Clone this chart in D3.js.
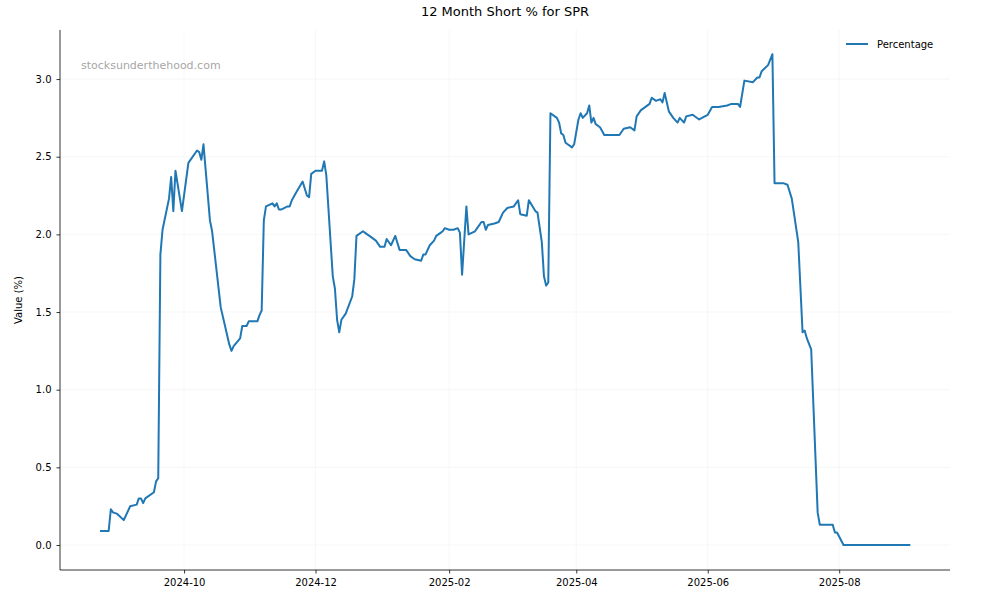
<!DOCTYPE html>
<html>
<head>
<meta charset="utf-8">
<script src="https://cdn.jsdelivr.net/npm/d3@7"></script>
<style>
  body { margin: 0; background: #fff; }
  text { font-family: "DejaVu Sans", sans-serif; }
</style>
</head>
<body>
<svg id="chart" width="1000" height="600"></svg>
<script>
const dates = ["2024-08-23","2024-08-27","2024-08-28","2024-08-29","2024-08-31","2024-09-03","2024-09-06","2024-09-09","2024-09-10","2024-09-11","2024-09-12","2024-09-13","2024-09-17","2024-09-18","2024-09-19","2024-09-20","2024-09-21","2024-09-24","2024-09-25","2024-09-26","2024-09-27","2024-09-30","2024-10-03","2024-10-07","2024-10-08","2024-10-09","2024-10-10","2024-10-13","2024-10-14","2024-10-18","2024-10-20","2024-10-22","2024-10-23","2024-10-24","2024-10-27","2024-10-28","2024-10-30","2024-10-31","2024-11-01","2024-11-04","2024-11-05","2024-11-06","2024-11-07","2024-11-08","2024-11-11","2024-11-12","2024-11-13","2024-11-14","2024-11-15","2024-11-18","2024-11-19","2024-11-20","2024-11-22","2024-11-25","2024-11-27","2024-11-28","2024-11-29","2024-12-01","2024-12-04","2024-12-05","2024-12-06","2024-12-09","2024-12-10","2024-12-11","2024-12-12","2024-12-13","2024-12-15","2024-12-18","2024-12-19","2024-12-20","2024-12-23","2024-12-24","2024-12-26","2024-12-29","2024-12-31","2025-01-02","2025-01-03","2025-01-05","2025-01-07","2025-01-09","2025-01-12","2025-01-14","2025-01-16","2025-01-19","2025-01-20","2025-01-21","2025-01-23","2025-01-25","2025-01-26","2025-01-28","2025-01-29","2025-01-30","2025-02-01","2025-02-03","2025-02-05","2025-02-06","2025-02-07","2025-02-09","2025-02-10","2025-02-13","2025-02-14","2025-02-16","2025-02-17","2025-02-18","2025-02-19","2025-02-22","2025-02-24","2025-02-26","2025-02-28","2025-03-03","2025-03-05","2025-03-06","2025-03-09","2025-03-10","2025-03-13","2025-03-14","2025-03-16","2025-03-17","2025-03-18","2025-03-19","2025-03-20","2025-03-23","2025-03-24","2025-03-25","2025-03-26","2025-03-27","2025-03-30","2025-03-31","2025-04-02","2025-04-03","2025-04-04","2025-04-06","2025-04-07","2025-04-08","2025-04-09","2025-04-10","2025-04-12","2025-04-14","2025-04-16","2025-04-21","2025-04-23","2025-04-26","2025-04-28","2025-04-29","2025-05-01","2025-05-02","2025-05-05","2025-05-06","2025-05-08","2025-05-10","2025-05-11","2025-05-12","2025-05-14","2025-05-16","2025-05-18","2025-05-19","2025-05-21","2025-05-22","2025-05-25","2025-05-28","2025-06-01","2025-06-03","2025-06-06","2025-06-10","2025-06-12","2025-06-15","2025-06-16","2025-06-18","2025-06-22","2025-06-24","2025-06-25","2025-06-26","2025-06-29","2025-07-01","2025-07-02","2025-07-06","2025-07-08","2025-07-10","2025-07-13","2025-07-15","2025-07-16","2025-07-17","2025-07-19","2025-07-22","2025-07-23","2025-07-29","2025-07-30","2025-07-31","2025-08-03","2025-09-03"];

const percentage = [0.09,0.09,0.23,0.21,0.20,0.16,0.25,0.26,0.30,0.30,0.27,0.30,0.34,0.41,0.43,1.87,2.03,2.23,2.37,2.15,2.41,2.15,2.46,2.54,2.53,2.48,2.58,2.09,2.02,1.53,1.41,1.29,1.25,1.28,1.33,1.41,1.41,1.44,1.44,1.44,1.48,1.51,2.09,2.18,2.20,2.18,2.20,2.16,2.16,2.18,2.18,2.22,2.27,2.34,2.25,2.24,2.39,2.41,2.41,2.47,2.38,1.73,1.65,1.45,1.37,1.45,1.49,1.60,1.71,1.99,2.02,2.01,1.99,1.96,1.92,1.92,1.97,1.93,1.99,1.90,1.90,1.86,1.84,1.83,1.87,1.87,1.93,1.96,1.99,2.01,2.02,2.04,2.03,2.03,2.04,2.01,1.74,2.18,2.00,2.02,2.04,2.08,2.08,2.03,2.06,2.07,2.08,2.14,2.17,2.18,2.22,2.13,2.12,2.22,2.15,2.14,1.95,1.73,1.67,1.69,2.78,2.75,2.72,2.65,2.64,2.59,2.56,2.58,2.74,2.78,2.75,2.78,2.83,2.72,2.75,2.71,2.69,2.64,2.64,2.64,2.68,2.69,2.67,2.76,2.80,2.81,2.84,2.88,2.86,2.87,2.85,2.91,2.79,2.75,2.72,2.75,2.72,2.76,2.77,2.74,2.77,2.82,2.82,2.83,2.84,2.84,2.82,2.99,2.98,3.01,3.01,3.05,3.09,3.16,2.33,2.33,2.32,2.23,1.95,1.37,1.38,1.33,1.26,0.21,0.13,0.13,0.08,0.08,0,0];

const yTicks = [0, 0.5, 1.0, 1.5, 2.0, 2.5, 3.0];
const xTickLabels = ["2024-10","2024-12","2025-02","2025-04","2025-06","2025-08"];

const parse = d3.timeParse("%Y-%m-%d");
const series = dates.map((d, i) => ({ date: parse(d), value: percentage[i] }));

const svg = d3.select("#chart");
const mLeft = 60, mRight = 950, mTop = 30, mBottom = 570;

const x = d3.scaleTime()
  .domain([new Date(2024, 7, 4, 10), new Date(2025, 8, 21, 10)])
  .range([mLeft, mRight]);
const y = d3.scaleLinear().domain([-0.161, 3.316]).range([mBottom, mTop]);

// grid
svg.append("g").selectAll("line").data(yTicks).enter().append("line")
  .attr("x1", mLeft).attr("x2", mRight)
  .attr("y1", d => y(d)).attr("y2", d => y(d))
  .attr("stroke", "#ebebeb").attr("stroke-width", 0.6).attr("stroke-opacity", 0.7);
const xTicks = xTickLabels.map(s => parse(s + "-01"));
svg.append("g").selectAll("line").data(xTicks).enter().append("line")
  .attr("y1", mTop).attr("y2", mBottom)
  .attr("x1", d => x(d)).attr("x2", d => x(d))
  .attr("stroke", "#ebebeb").attr("stroke-width", 0.6).attr("stroke-opacity", 0.7);

// axes
const xAxis = svg.append("g").attr("transform", `translate(0,${mBottom})`)
  .call(d3.axisBottom(x).tickValues(xTicks).tickFormat(d3.timeFormat("%Y-%m")).tickSizeOuter(0).tickSize(3.5).tickPadding(5));
const yAxis = svg.append("g").attr("transform", `translate(${mLeft},0)`)
  .call(d3.axisLeft(y).tickValues(yTicks).tickFormat(d3.format(".1f")).tickSizeOuter(0).tickSize(3.5).tickPadding(5));
[xAxis, yAxis].forEach(a => {
  a.selectAll("text").attr("font-size", 10).attr("fill", "#000").style("font-family", "DejaVu Sans");
  a.selectAll("line").attr("stroke", "#000").attr("stroke-width", 0.8);
  a.select(".domain").attr("stroke", "#000").attr("stroke-width", 0.8);
});
xAxis.select(".domain").attr("d", `M${mLeft},0H${mRight}`);
yAxis.select(".domain").attr("d", `M0,${mBottom}V${mTop}`);

// line
svg.append("path").datum(series)
  .attr("fill", "none").attr("stroke", "#1f77b4").attr("stroke-width", 2)
  .attr("stroke-linejoin", "round")
  .attr("d", d3.line().x(d => x(d.date)).y(d => y(d.value)));

// texts
svg.append("text").attr("x", (mLeft + mRight) / 2).attr("y", 16).attr("text-anchor", "middle")
  .attr("font-size", 13).text("12 Month Short % for SPR");
svg.append("text").attr("transform", `translate(22,${(mTop + mBottom) / 2}) rotate(-90)`)
  .attr("text-anchor", "middle").attr("font-size", 10).text("Value (%)");
svg.append("text").attr("x", 81).attr("y", 69).attr("font-size", 11)
  .attr("fill", "#999").attr("fill-opacity", 0.9).text("stocksunderthehood.com");

// legend
svg.append("line").attr("x1", 846).attr("x2", 868).attr("y1", 44).attr("y2", 44)
  .attr("stroke", "#1f77b4").attr("stroke-width", 2);
svg.append("text").attr("x", 877).attr("y", 48).attr("font-size", 10).text("Percentage");
</script>
</body>
</html>
